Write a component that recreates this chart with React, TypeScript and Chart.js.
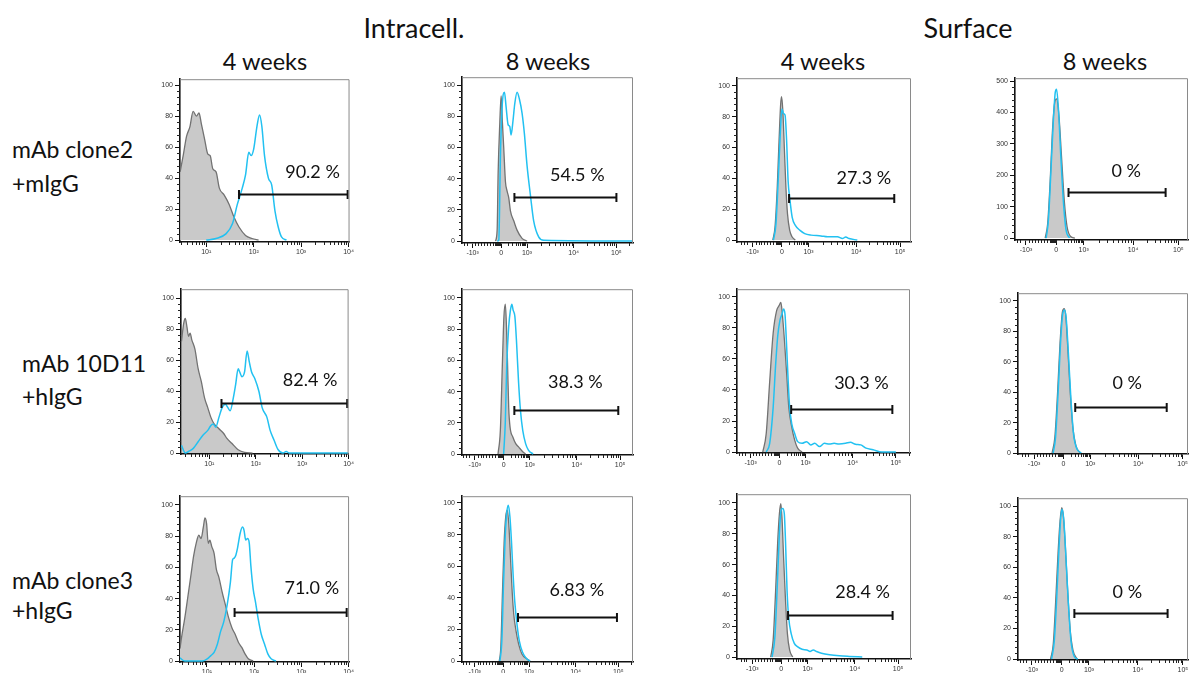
import React, { useEffect, useRef } from "react";
import { Chart, registerables } from "chart.js";
Chart.register(...registerables);

// ---------- Text ----------
const groupTitles = ["Intracell.", "Surface"];
const columnTitles = ["4 weeks", "8 weeks", "4 weeks", "8 weeks"];
const rowTitles = [["mAb clone2", "+mIgG"], ["mAb 10D11", "+hIgG"], ["mAb clone3", "+hIgG"]];

// ---------- Axis ticks ----------
// column 1: log axis in decades; columns 2-4: biexponential display units
const logTickValues = [1, 2, 3, 4];
const logTickLabels = ["10\u00b9", "10\u00b2", "10\u00b3", "10\u2074"];
const biexTickValues = [-1.1, 0, 1, 2.8, 4.45];
const biexTickLabels = ["-10\u00b3", "0", "10\u00b3", "10\u2074", "10\u2075"];
const countTicks100 = [0, 20, 40, 60, 80, 100];
const countTicks500 = [0, 100, 200, 300, 400, 500];

// ---------- Histogram data (x in axis display units, y = count) ----------
// Row 1: mAb clone2 + mIgG
const r1c1GrayX = [0.45, 0.517, 0.586, 0.655, 0.724, 0.793, 0.848, 0.897, 0.966, 1.034, 1.083, 1.138, 1.207, 1.276, 1.379, 1.483, 1.586, 1.69, 1.828, 1.966, 2.103];
const r1c1GrayY = [44, 55, 67, 73, 83, 80, 82, 75, 65, 55.5, 54.5, 46, 44, 33.5, 29, 23, 14.7, 8.4, 3, 1, 0];
const r1c1CyanX = [1.0, 1.207, 1.414, 1.552, 1.655, 1.759, 1.828, 1.897, 1.945, 2.0, 2.069, 2.124, 2.172, 2.228, 2.31, 2.379, 2.448, 2.517, 2.586, 2.69];
const r1c1CyanY = [0, 1, 4, 10.5, 23, 33.5, 42, 56.6, 54.5, 58.7, 73.4, 80.7, 73.4, 54.5, 40, 35.6, 18.9, 8.4, 2, 0];

const r1c2GrayX = [-0.218, -0.154, -0.115, -0.051, 0, 0.051, 0.103, 0.167, 0.231, 0.295, 0.359, 0.487, 0.615, 0.808, 1.0];
const r1c2GrayY = [0, 7, 44, 75.6, 93, 75.6, 59, 38, 32, 27.7, 19.4, 13, 7, 1.7, 0];
const r1c2CyanX = [-0.15, -0.09, -0.026, 0.038, 0.128, 0.192, 0.269, 0.333, 0.385, 0.462, 0.526, 0.615, 0.705, 0.808, 0.897, 1.0, 1.128, 1.256, 1.449, 1.64, 5.1];
const r1c2CyanY = [0, 0.6, 55, 86, 95.4, 86, 74.6, 73.5, 68, 77.7, 88, 95.4, 91, 82, 69, 48.5, 29.8, 13, 2.7, 0.5, 0];

const r1c3GrayX = [-0.341, -0.259, -0.176, -0.106, -0.047, -0.012, 0.035, 0.094, 0.153, 0.212, 0.294, 0.388, 0.506];
const r1c3GrayY = [0, 8.4, 33.7, 65, 88, 93, 84, 59, 33.7, 16.8, 6.3, 2, 0];
const r1c3CyanX = [-0.318, -0.224, -0.141, -0.059, 0, 0.059, 0.118, 0.176, 0.235, 0.294, 0.388, 0.506, 0.682, 0.859, 1.099, 1.472, 1.72, 2.092, 2.279, 2.403, 2.527, 2.837];
const r1c3CyanY = [0, 10.5, 37.9, 69.5, 85, 82, 81, 65, 37.9, 27.4, 14.7, 9.5, 6.3, 4.2, 3.2, 2.7, 2.1, 2.1, 1, 2, 1, 0];

const r1c4GrayX = [-0.4, -0.31, -0.22, -0.14, -0.06, 0.013, 0.103, 0.192, 0.295, 0.397, 0.526, 0.68];
const r1c4GrayY = [0, 46, 180, 335, 428, 443, 387, 263, 119, 36, 5, 0];
const r1c4CyanX = [-0.364, -0.284, -0.193, -0.102, -0.034, 0.013, 0.077, 0.167, 0.269, 0.359, 0.487];
const r1c4CyanY = [0, 57, 211, 376, 464, 474, 418, 263, 108, 26, 0];

// Row 2: mAb 10D11 + hIgG
const r2c1GrayX = [0.40, 0.448, 0.483, 0.517, 0.552, 0.586, 0.621, 0.69, 0.759, 0.828, 0.897, 0.966, 1.034, 1.103, 1.207, 1.31, 1.379, 1.483, 1.621, 1.759, 1.931];
const r2c1GrayY = [72, 83.7, 86.8, 81.6, 75.3, 77.4, 73.2, 67, 54.4, 46, 35.6, 29.3, 23, 18.8, 15.7, 12.6, 9.4, 6.3, 2.1, 0.4, 0];
const r2c1CyanX = [0.40, 0.483, 0.552, 0.655, 0.759, 0.862, 0.966, 1.034, 1.083, 1.138, 1.207, 1.276, 1.345, 1.4, 1.448, 1.517, 1.566, 1.621, 1.655, 1.703, 1.759, 1.814, 1.862, 1.91, 1.979, 2.069, 2.138, 2.241, 2.31, 2.393, 2.483, 2.586, 2.655, 2.724, 4.0];
const r2c1CyanY = [5, 0, 1, 3, 7.3, 11.5, 14.6, 17.8, 18.8, 16.7, 23, 29.3, 31.4, 29.3, 27.2, 35.6, 44, 54.4, 52.3, 49.2, 52.3, 65.9, 58.6, 52.3, 48.1, 39.7, 29.3, 23, 14.6, 8.4, 2.1, 0, 1, 0, 0];

const r2c2GrayX = [-0.215, -0.126, -0.05, 0.011, 0.065, 0.108, 0.151, 0.194, 0.247, 0.355, 0.462, 0.57, 0.731, 0.839];
const r2c2GrayY = [0, 15, 56.7, 88, 96, 81.7, 56.7, 29.6, 17, 10.8, 6.7, 4.6, 1.5, 0];
const r2c2CyanX = [0, 0.065, 0.118, 0.194, 0.258, 0.312, 0.366, 0.43, 0.495, 0.57, 0.645, 0.731, 0.839, 0.946, 1.124];
const r2c2CyanY = [0, 21, 56.7, 81.7, 92, 96, 92, 88, 71, 46, 27.5, 15, 6.7, 2.5, 0];

const r2c3GrayX = [-0.636, -0.504, -0.371, -0.239, -0.106, -0.013, 0.056, 0.112, 0.191, 0.281, 0.36, 0.472, 0.584, 0.697, 0.865];
const r2c3GrayY = [0, 11.9, 45.3, 76.6, 91.2, 94.4, 96.5, 89, 72.4, 49.5, 28.6, 16.1, 7.7, 2.5, 0];
const r2c3CyanX = [-0.504, -0.371, -0.239, -0.146, -0.066, 0.022, 0.101, 0.157, 0.213, 0.27, 0.337, 0.393, 0.472, 0.584, 0.697, 0.865, 1.037, 1.199, 1.348, 1.534, 1.72, 1.906, 2.092, 2.279, 2.527, 2.713, 2.907, 3.109, 3.31, 3.578, 3.913, 4.45];
const r2c3CyanY = [0, 5.6, 28.6, 55.7, 74.5, 85, 89, 92.3, 89, 70.4, 45.3, 28.6, 18.2, 11.9, 6.7, 5.6, 6.7, 4.6, 5.6, 3.5, 5.6, 5.2, 5.6, 5.2, 5.6, 6.3, 5, 4.6, 2.5, 1.5, 0, 0];

const r2c4GrayX = [-0.427, -0.324, -0.22, -0.129, -0.039, 0.025, 0.0875, 0.1625, 0.25, 0.35, 0.4625, 0.625];
const r2c4GrayY = [0, 10.3, 40.3, 72.5, 93, 95, 89.7, 68.2, 40.3, 16.7, 4.9, 0];
const r2c4CyanX = [-0.388, -0.298, -0.194, -0.104, -0.026, 0.0375, 0.1, 0.1875, 0.275, 0.375, 0.5, 0.6625];
const r2c4CyanY = [0, 10.3, 42.5, 74.7, 91.8, 94, 88.6, 64, 36, 12.4, 2.8, 0];

// Row 3: mAb clone3 + hIgG
const r3c1GrayX = [0.43, 0.462, 0.531, 0.6, 0.669, 0.717, 0.772, 0.828, 0.876, 0.924, 0.959, 0.993, 1.028, 1.062, 1.103, 1.152, 1.2, 1.255, 1.324, 1.393, 1.462, 1.531, 1.6, 1.669, 1.738, 1.807, 1.876, 1.979];
const r3c1GrayY = [8, 15, 27.5, 42, 56.7, 67, 75.4, 80.6, 78.5, 85.8, 91.7, 88, 75.4, 77.5, 73.3, 69, 58.75, 53.5, 44, 35.8, 27.5, 21.25, 17, 11.9, 8.75, 4.6, 1.5, 0];
const r3c1CyanX = [0.43, 0.531, 0.91, 1.014, 1.083, 1.152, 1.221, 1.29, 1.359, 1.428, 1.497, 1.545, 1.579, 1.614, 1.648, 1.703, 1.752, 1.786, 1.821, 1.862, 1.897, 1.931, 1.979, 2.028, 2.083, 2.152, 2.221, 2.29, 2.359, 2.462];
const r3c1CyanY = [2, 0, 0, 1.5, 3.5, 5.6, 10.8, 19, 25.4, 35.8, 50.4, 65, 66, 68, 72.3, 81.7, 85.8, 83.75, 77.5, 78.5, 75.4, 60.8, 46.25, 37.9, 27.5, 17, 10.8, 4.6, 1.5, 0];

const r3c2GrayX = [-0.15, -0.09, -0.025, 0.0375, 0.1, 0.1625, 0.225, 0.2875, 0.35, 0.4125, 0.5, 0.6, 0.725, 0.9125, 1.04];
const r3c2GrayY = [0, 8.7, 43.8, 74.8, 91.3, 95.5, 85, 64.5, 43.8, 29.3, 19, 10.7, 4.5, 1.4, 0];
const r3c2CyanX = [-0.125, -0.05, 0.0125, 0.075, 0.1375, 0.2, 0.2625, 0.325, 0.3875, 0.45, 0.5375, 0.625, 0.75, 0.9125, 1.04];
const r3c2CyanY = [0, 12.8, 48, 76.9, 93.4, 98.6, 91.3, 74.8, 54.1, 37.6, 23.1, 12.8, 5.6, 1.4, 0];

const r3c3GrayX = [-0.398, -0.305, -0.212, -0.133, -0.066, -0.013, 0.036, 0.095, 0.167, 0.238, 0.321, 0.44];
const r3c3GrayY = [0, 11, 42.6, 74.3, 93.2, 99.6, 89, 63.7, 36.3, 15.2, 4.6, 0];
const r3c3CyanX = [-0.345, -0.239, -0.146, -0.066, 0, 0.06, 0.119, 0.167, 0.226, 0.286, 0.381, 0.5, 0.619, 0.798, 0.976, 1.099, 1.223, 1.348, 1.534, 1.844, 2.217, 2.589, 3.085];
const r3c3CyanY = [0, 13, 46.8, 80.6, 95.4, 96.4, 93.2, 74.3, 42.6, 25.7, 15.2, 8.9, 6.75, 5, 4.6, 3.6, 4.6, 3.6, 2.5, 1.5, 0.8, 0.4, 0];

const r3c4GrayX = [-0.4125, -0.3125, -0.225, -0.1375, -0.0625, 0, 0.0625, 0.125, 0.2125, 0.3125, 0.4125, 0.5625];
const r3c4GrayY = [0, 10, 37.5, 69.3, 90.5, 99, 92.6, 75.6, 46, 18.4, 5.7, 0];
const r3c4CyanX = [-0.375, -0.275, -0.1875, -0.1, -0.0375, 0.0125, 0.075, 0.15, 0.2375, 0.3375, 0.4625, 0.5875];
const r3c4CyanY = [0, 12, 39.6, 73.5, 92.6, 97.9, 90.5, 67.2, 37.5, 12, 1.5, 0];

const grayXs = [r1c1GrayX, r1c2GrayX, r1c3GrayX, r1c4GrayX, r2c1GrayX, r2c2GrayX, r2c3GrayX, r2c4GrayX, r3c1GrayX, r3c2GrayX, r3c3GrayX, r3c4GrayX];
const grayYs = [r1c1GrayY, r1c2GrayY, r1c3GrayY, r1c4GrayY, r2c1GrayY, r2c2GrayY, r2c3GrayY, r2c4GrayY, r3c1GrayY, r3c2GrayY, r3c3GrayY, r3c4GrayY];
const cyanXs = [r1c1CyanX, r1c2CyanX, r1c3CyanX, r1c4CyanX, r2c1CyanX, r2c2CyanX, r2c3CyanX, r2c4CyanX, r3c1CyanX, r3c2CyanX, r3c3CyanX, r3c4CyanX];
const cyanYs = [r1c1CyanY, r1c2CyanY, r1c3CyanY, r1c4CyanY, r2c1CyanY, r2c2CyanY, r2c3CyanY, r2c4CyanY, r3c1CyanY, r3c2CyanY, r3c3CyanY, r3c4CyanY];

// ---------- Gates ----------
const gateStart = [1.69, 0.513, 0.27, 0.449, 1.262, 0.409, 0.45, 0.4375, 1.586, 0.575, 0.262, 0.4625];
const gateEnd = [3.98, 4.45, 4.23, 3.985, 3.97, 4.378, 4.316, 3.855, 3.959, 4.4, 4.24, 3.89];
const gateLevel = [29.5, 28, 27.4, 146, 32.4, 28.5, 28, 30.3, 31.25, 27.9, 27.4, 30];
const gatePercent = ["90.2 %", "54.5 %", "27.3 %", "0 %", "82.4 %", "38.3 %", "30.3 %", "0 %", "71.0 %", "6.83 %", "28.4 %", "0 %"];
const percentX = [3.24, 2.94, 3.085, 2.55, 3.17, 2.74, 3.135, 2.38, 3.22, 2.85, 3.1, 2.41];
const percentY = [44, 42.3, 40.4, 213, 47, 46.3, 44.3, 45.7, 46.7, 44.8, 42.2, 43.4];

// ---------- Layout (pixels) ----------
const BOXES = [
  [180, 75, 353, 242], [462, 73, 633, 243], [737, 74, 911, 242], [1015, 74, 1188, 240],
  [181, 285, 353, 454], [462, 285, 633, 455], [737, 285, 910, 453], [1018, 289, 1188, 454],
  [180, 492, 353, 662], [462, 492, 633, 662], [737, 490, 911, 659], [1018, 494, 1188, 660],
];
const X_RANGES = [
  [0.447, 4.02], [-1.51, 5.09], [-1.69, 4.86], [-1.5, 4.8],
  [0.39, 4.0], [-1.59, 4.94], [-1.62, 4.99], [-1.7, 4.65],
  [0.43, 4.01], [-1.59, 5.02], [-1.68, 4.94], [-1.61, 4.64],
];
const Y_RANGES = [
  [-1.26, 103.8], [-1.25, 105], [-1.26, 104.9], [-6.2, 509],
  [-0.63, 105.7], [-0.6, 105.6], [-0.63, 105], [-0.64, 105.1],
  [-0.6, 105.6], [-0.6, 104.3], [-1.27, 105.7], [-0.64, 105.1],
];

const FONT = "Lato, 'Open Sans', 'Noto Sans', sans-serif";
const CYAN = "#22c1f1";
const GRAY_LINE = "#727272";
const GRAY_FILL = "#c9c9c9";
const AXW = 34;
const AXH = 22;
const PAD = 2;

function pts(xs: number[], ys: number[]) {
  return xs.map((x, i) => ({ x, y: ys[i] }));
}

function minorXTicks(isLog: boolean): number[] {
  const out: number[] = [];
  if (isLog) {
    for (let d = 0; d < 4; d++) for (let k = 2; k <= 9; k++) out.push(d + Math.log10(k));
    return out;
  }
  for (let k = 1; k <= 9; k++) out.push(-0.11 * k);
  for (let k = 2; k <= 4; k++) out.push(-1.1 - 0.11 * k);
  for (let k = 1; k <= 8; k++) out.push(-0.025 * k);
  for (let k = 1; k <= 9; k++) out.push(Math.log10(1 + 0.9 * k) * 0.98);
  for (let k = 2; k <= 9; k++) out.push(1 + 1.8 * Math.log10(k));
  for (let k = 2; k <= 9; k++) out.push(2.8 + 1.65 * Math.log10(k));
  for (let k = 2; k <= 3; k++) out.push(4.45 + 1.65 * Math.log10(k));
  return out;
}

const framePlugin = {
  id: "frame",
  afterDraw(chart: any, _a: any, opts: any) {
    const { ctx, chartArea: a, scales } = chart;
    ctx.save();
    ctx.strokeStyle = "#8a8a8a";
    ctx.lineWidth = 1;
    ctx.beginPath();
    ctx.moveTo(a.left, a.top + 0.5);
    ctx.lineTo(a.right - 0.5, a.top + 0.5);
    ctx.lineTo(a.right - 0.5, a.bottom);
    ctx.stroke();
    ctx.strokeStyle = "#222";
    ctx.lineWidth = 1;
    ctx.beginPath();
    const xs = scales.x;
    for (const v of opts.minorX as number[]) {
      if (v < xs.min || v > xs.max) continue;
      const px = Math.round(xs.getPixelForValue(v)) + 0.5;
      ctx.moveTo(px, a.bottom);
      ctx.lineTo(px, a.bottom + 3);
    }
    const ys = scales.y;
    for (let v = 0; v <= opts.yTop; v += opts.yMinorStep) {
      if (v % opts.yMajorStep === 0) continue;
      const py = Math.round(ys.getPixelForValue(v)) + 0.5;
      ctx.moveTo(a.left, py);
      ctx.lineTo(a.left - 3, py);
    }
    ctx.stroke();
    ctx.restore();
  },
};

const gatePlugin = {
  id: "gate",
  afterDatasetsDraw(chart: any, _a: any, opts: any) {
    const { ctx, scales } = chart;
    const x1 = scales.x.getPixelForValue(opts.start);
    const x2 = scales.x.getPixelForValue(opts.end);
    const y = Math.round(scales.y.getPixelForValue(opts.level)) + 0.5;
    ctx.save();
    ctx.strokeStyle = "#111";
    ctx.lineWidth = 2;
    ctx.beginPath();
    ctx.moveTo(x1, y);
    ctx.lineTo(x2, y);
    ctx.moveTo(x1, y - 4.5);
    ctx.lineTo(x1, y + 4.5);
    ctx.moveTo(x2, y - 4.5);
    ctx.lineTo(x2, y + 4.5);
    ctx.stroke();
    ctx.fillStyle = "#111";
    ctx.font = `18px ${FONT}`;
    ctx.textAlign = "center";
    ctx.textBaseline = "middle";
    ctx.fillText(opts.text, scales.x.getPixelForValue(opts.tx), scales.y.getPixelForValue(opts.ty));
    ctx.restore();
  },
};

function Histogram({ idx }: { idx: number }) {
  const ref = useRef<HTMLCanvasElement>(null);
  const [L, T, R, B] = BOXES[idx];
  const width = R - L + AXW + PAD;
  const height = B - T + AXH + PAD;

  useEffect(() => {
    const isLog = idx % 4 === 0;
    const big = idx === 3;
    const xTicks = isLog ? logTickValues : biexTickValues;
    const xLabels = isLog ? logTickLabels : biexTickLabels;
    const yTicks = big ? countTicks500 : countTicks100;
    const chart = new Chart(ref.current as HTMLCanvasElement, {
      type: "line",
      data: {
        datasets: [
          {
            label: "stained",
            data: pts(cyanXs[idx], cyanYs[idx]),
            borderColor: CYAN,
            borderWidth: 1.5,
            pointRadius: 0,
            fill: false,
            cubicInterpolationMode: "monotone",
            order: 1,
          },
          {
            label: "control",
            data: pts(grayXs[idx], grayYs[idx]),
            borderColor: GRAY_LINE,
            backgroundColor: GRAY_FILL,
            borderWidth: 1.3,
            pointRadius: 0,
            fill: "origin",
            cubicInterpolationMode: "monotone",
            order: 2,
          },
        ],
      },
      options: {
        animation: false,
        responsive: false,
        maintainAspectRatio: false,
        layout: { padding: { top: PAD, right: PAD, left: 0, bottom: 0 } },
        plugins: {
          legend: { display: false },
          tooltip: { enabled: false },
          frame: { minorX: minorXTicks(isLog), yTop: big ? 500 : 100, yMinorStep: big ? 20 : 4, yMajorStep: big ? 100 : 20 },
          gate: {
            start: gateStart[idx], end: gateEnd[idx], level: gateLevel[idx],
            text: gatePercent[idx], tx: percentX[idx], ty: percentY[idx],
          },
        } as any,
        scales: {
          x: {
            type: "linear",
            min: X_RANGES[idx][0],
            max: X_RANGES[idx][1],
            z: 1,
            afterFit: (s: any) => { s.height = AXH; },
            afterBuildTicks: (s: any) => { s.ticks = xTicks.map((v) => ({ value: v })); },
            ticks: {
              autoSkip: false,
              maxRotation: 0,
              padding: 1,
              color: "#333",
              font: { size: 7, family: "'Liberation Sans', Arial, sans-serif" },
              callback: (_v: any, i: number) => xLabels[i],
            },
            grid: { drawOnChartArea: false, drawTicks: true, tickLength: 5, color: "#111", tickWidth: 1 },
            border: { display: true, color: "#111", width: 1.6 },
          },
          y: {
            type: "linear",
            min: Y_RANGES[idx][0],
            max: Y_RANGES[idx][1],
            z: 1,
            afterFit: (s: any) => { s.width = AXW; },
            afterBuildTicks: (s: any) => { s.ticks = yTicks.map((v) => ({ value: v })); },
            ticks: {
              autoSkip: false,
              padding: 2,
              color: "#333",
              font: { size: 7, family: "'Liberation Sans', Arial, sans-serif" },
              callback: (_v: any, i: number) => String(yTicks[i]),
            },
            grid: { drawOnChartArea: false, drawTicks: true, tickLength: 5, color: "#111", tickWidth: 1 },
            border: { display: true, color: "#111", width: 1.6 },
          },
        },
      } as any,
      plugins: [framePlugin, gatePlugin],
    });
    return () => chart.destroy();
  }, [idx]);

  return (
    <canvas
      ref={ref}
      width={width}
      height={height}
      style={{ position: "absolute", left: L - AXW, top: T - PAD, width, height }}
    />
  );
}

function Label({ text, cx, cy, size, left }: { text: string; cx?: number; cy: number; size: number; left?: number }) {
  const style: React.CSSProperties = {
    position: "absolute",
    top: cy - size * 0.6,
    height: size * 1.2,
    lineHeight: `${size * 1.2}px`,
    fontSize: size,
    fontFamily: FONT,
    color: "#111",
    whiteSpace: "nowrap",
  };
  if (left !== undefined) {
    style.left = left;
  } else {
    style.left = (cx as number) - 150;
    style.width = 300;
    style.textAlign = "center";
  }
  return <div style={style}>{text}</div>;
}

export default function App() {
  const groupCx = [414, 968];
  const colCx = [265, 548, 823, 1105];
  const rowLeft = [12, 22, 12];
  const rowCy = [[150, 184], [364, 397], [581, 611]];
  return (
    <div style={{ position: "absolute", left: 0, top: 0, width: 1190, height: 673, overflow: "hidden", background: "#fff" }}>
      {groupTitles.map((t, i) => (
        <Label key={"g" + i} text={t} cx={groupCx[i]} cy={28} size={27} />
      ))}
      {columnTitles.map((t, i) => (
        <Label key={"c" + i} text={t} cx={colCx[i]} cy={61} size={23.5} />
      ))}
      {rowTitles.map((lines, r) =>
        lines.map((t, j) => <Label key={"r" + r + j} text={t} left={rowLeft[r]} cy={rowCy[r][j]} size={23} />)
      )}
      {BOXES.map((_, i) => (
        <Histogram key={i} idx={i} />
      ))}
    </div>
  );
}
